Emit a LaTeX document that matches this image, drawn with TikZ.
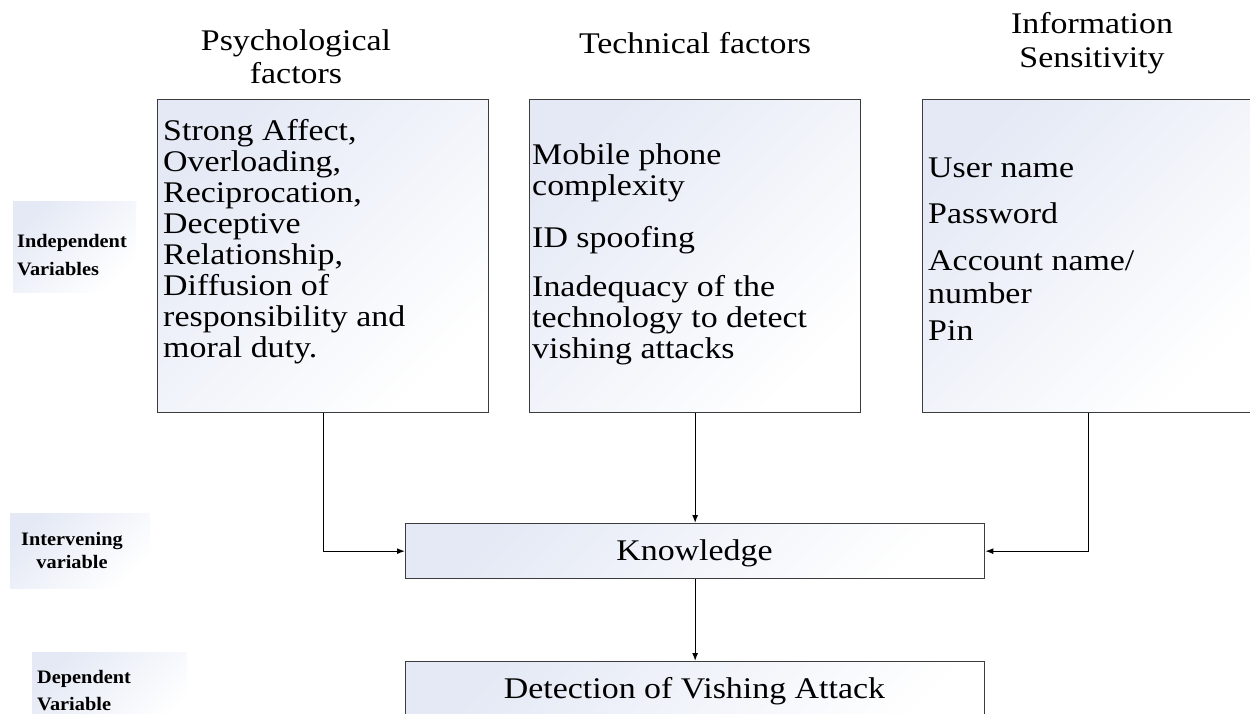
\documentclass[tikz,border=0pt]{standalone}
\usepackage{fontspec}
\setmainfont{Liberation Serif}
\usetikzlibrary{arrows.meta}
\definecolor{shadeblue}{RGB}{228,233,245}
\definecolor{shademid}{RGB}{246,247,251}
\definecolor{boxline}{RGB}{60,60,60}
\begin{document}
\begin{tikzpicture}[x=1pt,y=-1pt,
  box/.style={draw=boxline, line width=1.3pt, shading=axis, top color=shadeblue,
    middle color=shademid, bottom color=white, shading angle=45, inner sep=0pt, anchor=north west},
  lblbg/.style={shading=axis, top color=shadeblue, middle color=shademid, bottom color=white,
    shading angle=45, inner sep=0pt, anchor=north west},
  head/.style={font=\fontsize{30}{33}\selectfont, xscale=1.13, inner sep=0pt, anchor=base},
  body/.style={font=\fontsize{30}{31}\selectfont, xscale=1.13, inner sep=0pt, anchor=base west},
  mid/.style={font=\fontsize{30}{31}\selectfont, xscale=1.13, inner sep=0pt, anchor=base},
  lbl/.style={font=\bfseries\fontsize{19}{22}\selectfont, xscale=1.07, inner sep=0pt},
  conn/.style={line width=1.2pt, -{Latex[length=8pt,width=6pt]}}]
\clip (0,0) rectangle (1250,713);
\fill[white] (0,0) rectangle (1250,713);

% left label backgrounds
\node[lblbg, minimum width=123pt, minimum height=91pt] (indbg) at (13,201) {};
\node[lblbg, minimum width=140pt, minimum height=75pt] (intbg) at (10,513) {};
\node[lblbg, minimum width=155pt, minimum height=80pt] (depbg) at (32,652) {};
\node[lbl, anchor=base west] (ind1) at (17,247) {Independent};
\node[lbl, anchor=base west] (ind2) at (17,275) {Variables};
\node[lbl, anchor=base] (int1) at (72,545) {Intervening};
\node[lbl, anchor=base] (int2) at (72,568) {variable};
\node[lbl, anchor=base west] (dep1) at (37,683) {Dependent};
\node[lbl, anchor=base west] (dep2) at (37,710) {Variable};

% headers
\node[head] (h1a) at (296,50) {Psychological};
\node[head] (h1b) at (296,83) {factors};
\node[head] (h2) at (695,53) {Technical factors};
\node[head] (h3a) at (1092,33) {Information};
\node[head] (h3b) at (1092,67) {Sensitivity};

% boxes
\node[box, minimum width=331pt, minimum height=313pt] (psy) at (157,99) {};
\node[box, minimum width=331pt, minimum height=313pt] (tech) at (529,99) {};
\node[box, minimum width=332pt, minimum height=313pt] (info) at (922,99) {};
\node[box, minimum width=579pt, minimum height=55pt] (know) at (405,523) {};
\node[box, minimum width=579pt, minimum height=80pt] (det) at (405,661) {};

% box 1 text
\node[body] (p1) at (163,140) {Strong Affect,};
\node[body] (p2) at (163,171) {Overloading,};
\node[body] (p3) at (163,202) {Reciprocation,};
\node[body] (p4) at (163,233) {Deceptive};
\node[body] (p5) at (163,264) {Relationship,};
\node[body] (p6) at (163,295) {Diffusion of};
\node[body] (p7) at (163,326) {responsibility and};
\node[body] (p8) at (163,357) {moral duty.};

% box 2 text
\node[body] (t1) at (532,164) {Mobile phone};
\node[body] (t2) at (532,195) {complexity};
\node[body] (t3) at (532,247) {ID spoofing};
\node[body] (t4) at (532,296) {Inadequacy of the};
\node[body] (t5) at (532,327) {technology to detect};
\node[body] (t6) at (532,358) {vishing attacks};

% box 3 text
\node[body] (i1) at (928,177) {User name};
\node[body] (i2) at (928,223) {Password};
\node[body] (i3) at (928,270) {Account name/};
\node[body] (i4) at (928,303) {number};
\node[body] (i5) at (928,340) {Pin};

% lower texts
\node[mid] (kt) at (694.5,560) {Knowledge};
\node[mid] (dt) at (694.5,698) {Detection of Vishing Attack};

% connectors
\draw[conn] (psy.south) |- (know.west);
\draw[conn] (tech.south) -- (know.north);
\draw[conn] (info.south) |- (know.east);
\draw[conn] (know.south) -- (det.north);
\end{tikzpicture}
\end{document}
